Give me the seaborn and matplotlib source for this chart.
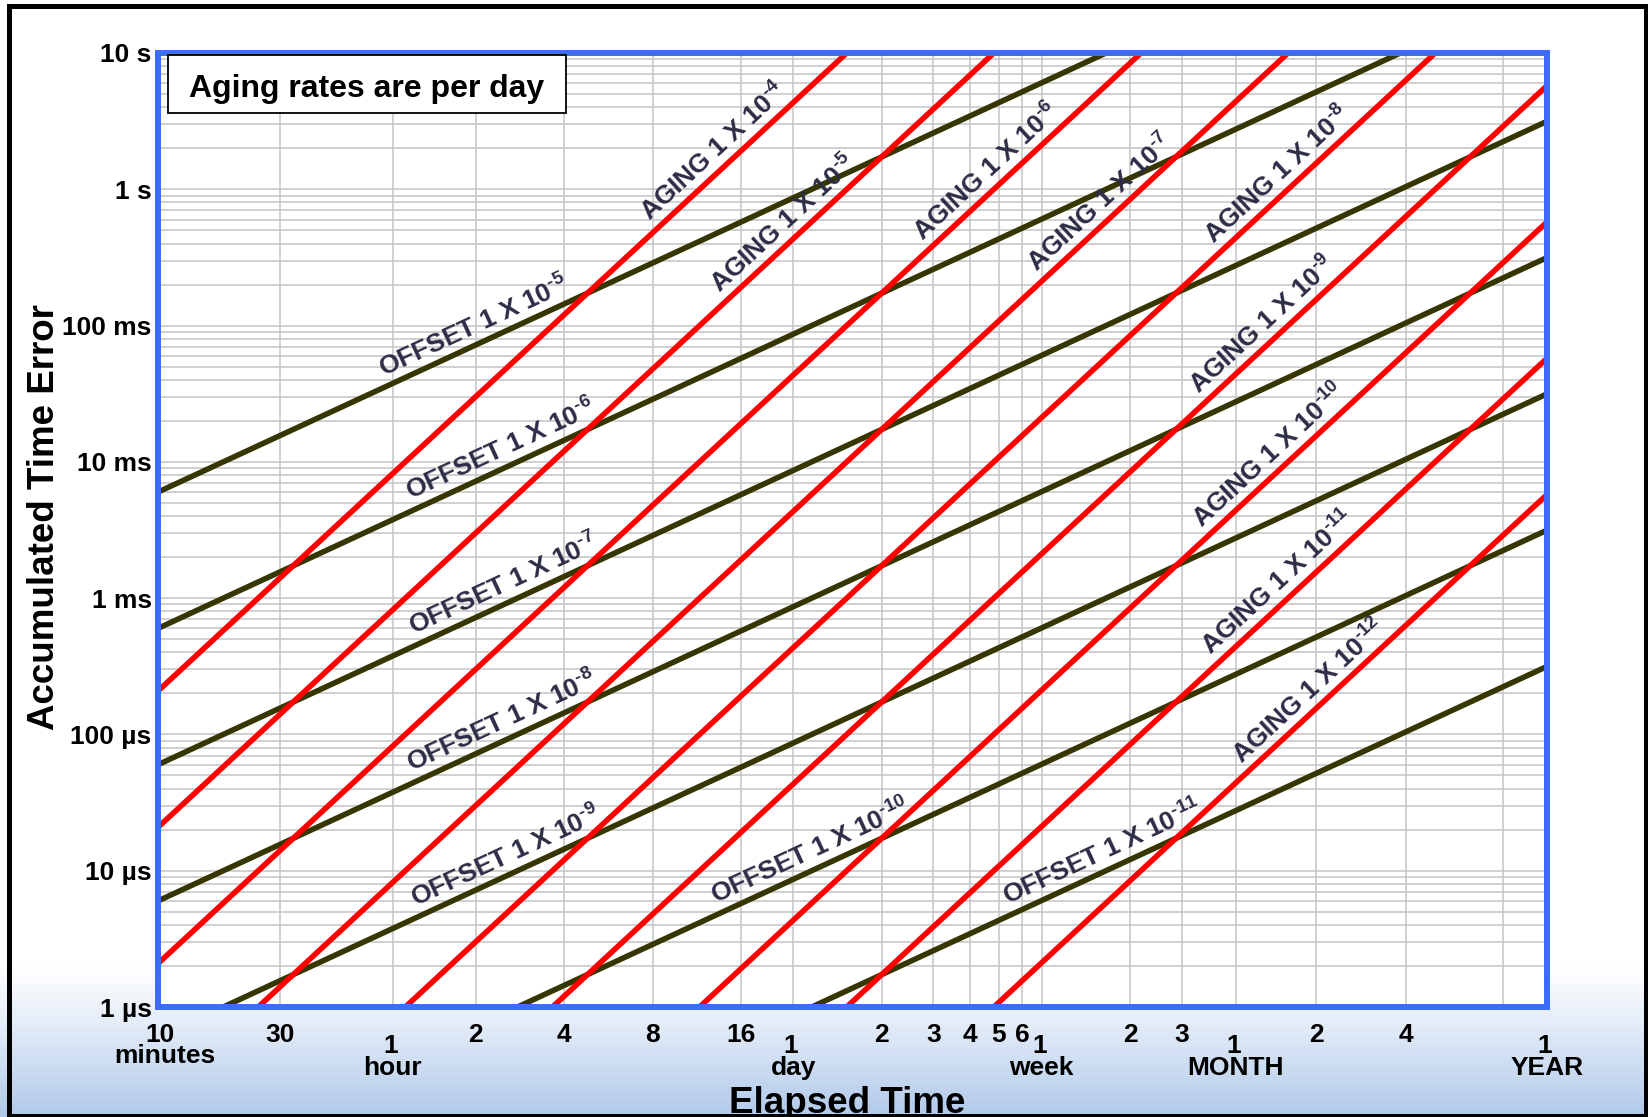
import numpy as np
import pandas as pd
import matplotlib
matplotlib.use("Agg")
import matplotlib.pyplot as plt
import seaborn as sns
from matplotlib.patches import Rectangle
from matplotlib.ticker import FixedLocator, NullFormatter

# ---------------------------------------------------------------- data
MIN = 60.0
HOUR = 3600.0
DAY = 86400.0
WEEK = 7 * DAY
YEAR = 365 * DAY

# frequency offsets (dimensionless) and aging rates (per day)
offset_rates = [1e-5, 1e-6, 1e-7, 1e-8, 1e-9, 1e-10, 1e-11]
offset_exponents = [-5, -6, -7, -8, -9, -10, -11]
aging_rates = [1e-4, 1e-5, 1e-6, 1e-7, 1e-8, 1e-9, 1e-10, 1e-11, 1e-12]
aging_exponents = [-4, -5, -6, -7, -8, -9, -10, -11, -12]

# elapsed time (s) at which each label is anchored on its line
offset_label_times = [7.5e3, 9.3e3, 9.5e3, 9.4e3, 9.65e3, 1.05e5, 1.03e6]
aging_label_times = [5.1e4, 8.8e4, 4.3e5, 1.05e6, 4.2e6, 3.74e6, 3.93e6, 4.24e6, 5.37e6]

# elapsed-time axis
time_min, time_max = 10 * MIN, 1 * YEAR
tick_seconds = [10 * MIN, 26 * MIN, 3770.0, 2 * HOUR, 4 * HOUR, 8 * HOUR, 16 * HOUR,
                1 * DAY, 2 * DAY, 3 * DAY, 4 * DAY, 5 * DAY, 6 * DAY,
                1 * WEEK, 2 * WEEK, 3 * WEEK, 32 * DAY, 60 * DAY, 121 * DAY, 1 * YEAR]
tick_numbers = ['10', '30', '1', '2', '4', '8', '16', '1', '2', '3', '4', '5', '6',
                '1', '2', '3', '1', '2', '4', '1']
tick_units = ['minutes', '', 'hour', '', '', '', '', 'day', '', '', '', '', '',
              'week', '', '', 'MONTH', '', '', 'YEAR']
extra_grid_seconds = [258 * DAY]

# accumulated-error axis
error_ticks = [1e-6, 1e-5, 1e-4, 1e-3, 1e-2, 1e-1, 1.0, 10.0]
error_labels = ['1 \u00b5s', '10 \u00b5s', '100 \u00b5s', '1 ms', '10 ms', '100 ms', '1 s', '10 s']

# ---------------------------------------------------------------- style
W, H = 1648, 1117
sns.set_theme(style="white")
plt.rcParams['font.family'] = ['Liberation Sans', 'DejaVu Sans']
plt.rcParams['font.weight'] = 'bold'
plt.rcParams['mathtext.fontset'] = 'custom'
plt.rcParams['mathtext.default'] = 'regular'

RED = '#ff0000'
OLIVE = '#363600'
FRAME = '#3d6cfa'
GRID = '#c4c4c4'
LABEL = '#2c2c46'
LW = 4.0


def offset_error(rate, t):
    return rate * np.asarray(t)


def aging_error(rate, t):
    return 0.5 * (rate / DAY) * np.asarray(t) ** 2


fig = plt.figure(figsize=(W / 100, H / 100), dpi=100)
fig.patch.set_facecolor('white')

# soft blue band along the bottom of the sheet
bg = fig.add_axes([0, 0, 1, 1], zorder=-10)
bg.axis('off')
rows = np.arange(H)
ramp = np.clip((rows - 965) / (H - 965), 0, 1) ** 1.1
grad = np.zeros((H, 1, 4))
grad[..., 0] = 0.69
grad[..., 1] = 0.785
grad[..., 2] = 0.92
grad[..., 3] = ramp[:, None]
bg.imshow(grad, extent=[0, 1, 0, 1], aspect='auto', origin='upper')
bg.set_xlim(0, 1)
bg.set_ylim(0, 1)

# plot area in pixel coordinates
ax_l, ax_r, ax_t, ax_b = 158, 1547, 53, 1007
ax = fig.add_axes([ax_l / W, 1 - ax_b / H, (ax_r - ax_l) / W, (ax_b - ax_t) / H])
ax.set_facecolor('white')

# ---------------------------------------------------------------- lines
t = np.geomspace(time_min, time_max, 200)
frames = []
palette = {}
for r, e in zip(offset_rates, offset_exponents):
    name = f'offset {e}'
    frames.append(pd.DataFrame({'time': t, 'error': offset_error(r, t), 'line': name}))
    palette[name] = OLIVE
for r, e in zip(aging_rates, aging_exponents):
    name = f'aging {e}'
    frames.append(pd.DataFrame({'time': t, 'error': aging_error(r, t), 'line': name}))
    palette[name] = RED
df = pd.concat(frames, ignore_index=True)

sns.lineplot(data=df, x='time', y='error', hue='line', palette=palette,
             estimator=None, sort=False, legend=False, linewidth=LW, ax=ax,
             solid_capstyle='butt')

ax.set_xscale('log')
ax.set_yscale('log')
ax.set_xlim(time_min, time_max)
ax.set_ylim(error_ticks[0], error_ticks[-1])
ax.set_xlabel('')
ax.set_ylabel('')

# ---------------------------------------------------------------- grid & ticks
unit_idx = [i for i, u in enumerate(tick_units) if u and i not in (0, len(tick_units) - 1)]
major_x = [tick_seconds[i] for i in unit_idx]
minor_x = [s for i, s in enumerate(tick_seconds) if i not in unit_idx] + extra_grid_seconds
ax.xaxis.set_major_locator(FixedLocator(major_x))
ax.xaxis.set_minor_locator(FixedLocator(minor_x))
ax.xaxis.set_major_formatter(NullFormatter())
ax.xaxis.set_minor_formatter(NullFormatter())
ax.tick_params(axis='x', which='major', length=13, width=1.1, color=GRID, direction='out')
ax.tick_params(axis='x', which='minor', length=4, width=1.1, color=GRID, direction='out')

ax.set_yticks(error_ticks)
ax.set_yticklabels(error_labels)
minor_y = [m * 10.0 ** k for k in range(-6, 1) for m in range(2, 10)]
ax.yaxis.set_minor_locator(FixedLocator(minor_y))
ax.yaxis.set_minor_formatter(NullFormatter())
ax.tick_params(axis='y', which='both', length=0, pad=4.5, labelsize=19)
for lab in ax.get_yticklabels():
    lab.set_fontweight('bold')
    lab.set_color('black')

ax.grid(True, which='both', axis='both', color=GRID, linewidth=1.1)
ax.set_axisbelow(True)

for sp in ax.spines.values():
    sp.set_visible(True)
    sp.set_color(FRAME)
    sp.set_linewidth(4.3)
    sp.set_zorder(3)

# elapsed-time labels under the axis
for s, num, unit in zip(tick_seconds, tick_numbers, tick_units):
    if unit == 'minutes':
        num_off, unit_off, num_dx, unit_dx = -16, -37, 2, 7
    elif unit:
        num_off, unit_off, num_dx, unit_dx = -27, -49, -2, 0
    else:
        num_off, unit_off, num_dx, unit_dx = -16, 0, 0, 0
    ax.annotate(num, xy=(s, 0), xycoords=('data', 'axes fraction'),
                xytext=(num_dx, num_off), textcoords='offset pixels',
                ha='center', va='top', fontsize=19, fontweight='bold',
                color='black', annotation_clip=False)
    if unit:
        ax.annotate(unit, xy=(s, 0), xycoords=('data', 'axes fraction'),
                    xytext=(unit_dx, unit_off), textcoords='offset pixels',
                    ha='center', va='top', fontsize=19, fontweight='bold',
                    color='black', annotation_clip=False)

# ---------------------------------------------------------------- line labels
fig.canvas.draw()


def place_label(text, tt, func, rate, gap=9):
    y0 = func(rate, tt)
    p1 = ax.transData.transform((tt, y0))
    p2 = ax.transData.transform((tt * 1.5, func(rate, tt * 1.5)))
    ang = np.degrees(np.arctan2(p2[1] - p1[1], p2[0] - p1[0]))
    th = np.radians(ang)
    dx, dy = -gap * np.sin(th), gap * np.cos(th)
    ax.annotate(text, xy=(tt, y0), xytext=(dx, dy), textcoords='offset pixels',
                rotation=ang, rotation_mode='anchor', ha='center', va='baseline',
                fontsize=19, fontweight='bold', color=LABEL, zorder=5)


def sup(e):
    # superscript exponent written with a short hyphen
    return '$^{\u2010%d}$' % abs(e)


for r, e, tt in zip(offset_rates, offset_exponents, offset_label_times):
    place_label('OFFSET 1 X 10' + sup(e), tt, offset_error, r)
for r, e, tt in zip(aging_rates, aging_exponents, aging_label_times):
    place_label('AGING 1 X 10' + sup(e), tt, aging_error, r)

# ---------------------------------------------------------------- note box
bx0, bx1, by0, by1 = 168, 566, 55, 113
ax.add_patch(Rectangle((bx0 / W, 1 - by1 / H), (bx1 - bx0) / W, (by1 - by0) / H,
                       transform=fig.transFigure, facecolor='white',
                       edgecolor='black', linewidth=1.3, zorder=6))
ax.text(367 / W, 1 - 97 / H, 'Aging rates are per day', transform=fig.transFigure,
        ha='center', va='baseline', fontsize=23, fontweight='bold',
        color='black', zorder=7)

# ---------------------------------------------------------------- axis titles
fig.text(54 / W, 1 - 517 / H, 'Accumulated Time Error', rotation=90,
         rotation_mode='anchor', ha='center', va='baseline',
         fontsize=26.5, fontweight='bold', color='black')
fig.text(847 / W, 1 - 1113 / H, 'Elapsed Time', ha='center', va='baseline',
         fontsize=26.5, fontweight='bold', color='black', zorder=1)

# sheet border
fig.add_artist(Rectangle((8.7 / W, 1.5 / H), (1646 - 8.7) / W, (H - 5.8 - 1.5) / H,
                         transform=fig.transFigure, fill=False,
                         edgecolor='black', linewidth=3.6, zorder=20))

fig.savefig('out.png', dpi=100, facecolor='white')
